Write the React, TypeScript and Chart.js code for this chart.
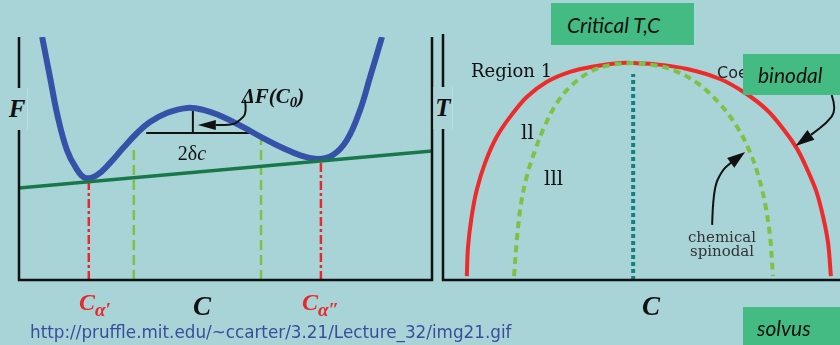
import React, { useEffect, useRef } from "react";
import { Chart, registerables } from "chart.js";
Chart.register(...registerables);

// ---------- Left panel: free energy F(C) ----------
const freeEnergyC = [5.6, 7.5, 9.4, 11.6, 13.8, 16.0, 18.9, 22.0, 25.2, 28.6, 31.7, 35.8, 40.7, 44.6, 49.4, 54.2, 59.1, 63.9, 68.0, 72.4, 76.0, 79.4, 82.6, 85.0, 87.9];
const freeEnergyF = [100, 83.5, 67.1, 53.5, 46.1, 42.0, 43.2, 48.1, 54.3, 60.5, 65.0, 68.7, 70.8, 70.0, 67.1, 63.0, 58.4, 54.3, 51.4, 49.8, 51.4, 57.6, 70.0, 83.5, 100];
const tangentC = [0, 100];
const tangentF = [37.9, 53.1];
const coexistC = [16.9, 73.1]; // C alpha', C alpha''
const coexistF = [40.5, 49.5];
const inflectionC = [27.8, 58.6];
const inflectionF = [55.6, 57.6];
const deltaSpanC = [30.8, 55.9];
const deltaSpanF = 60.5;
const peakC = 42.1;
const peakF = 70.0;
const leftArrowC = [54.7, 55.2, 53.5, 51.8, 43.3];
const leftArrowF = [74.1, 68.7, 65.8, 63.8, 63.8];

// ---------- Right panel: phase diagram T(C) ----------
const binodalC = [6.0, 6.3, 7.2, 8.5, 10.6, 13.5, 16.9, 21.1, 26.1, 32.0, 38.7, 44.6, 47.9, 52.9, 61.5, 69.8, 76.1, 81.6, 86.1, 89.2, 91.7, 94.0, 95.7, 97.0, 97.7];
const binodalT = [1.6, 13.4, 25.6, 36.6, 47.6, 58.1, 66.3, 74.4, 80.5, 84.6, 87.0, 88.2, 88.2, 87.8, 85.8, 81.7, 76.0, 69.1, 60.6, 53.3, 45.1, 36.2, 26.0, 15.0, 1.6];
const spinodalC = [17.9, 18.6, 19.6, 21.2, 23.2, 25.4, 28.5, 32.0, 37.0, 42.1, 47.9, 52.9, 57.9, 64.0, 69.8, 74.1, 77.1, 79.3, 81.1, 82.4, 83.1];
const spinodalT = [1.6, 16.3, 30.5, 42.7, 52.8, 61.8, 71.5, 78.5, 84.6, 87.4, 88.2, 87.4, 85.4, 80.1, 71.5, 62.2, 52.8, 43.1, 31.3, 17.5, 1.6];
const criticalC = 47.9;
const criticalTopT = 83.7;
const binodalArrowC = [97.9, 99.2, 96.6, 93.0, 88.8];
const binodalArrowT = [75.2, 69.1, 63.8, 59.4, 54.5];
const spinodalArrowC = [67.8, 68.0, 70.3, 72.8, 76.1];
const spinodalArrowT = [22.4, 36.6, 44.7, 48.0, 52.0];

const BG = "#a9d4d7";
const BOX = "#44bb82";
const RED = "#e8282a";
const GREEN = "#7cc243";

const pts = (xs: number[], ys: number[]) => xs.map((x, i) => ({ x, y: ys[i] }));
const vline = (x: number, top: number) => [{ x, y: 0 }, { x, y: top }];

function drawArrow(chart: any, xs: number[], ys: number[], headLen: number, headHalf: number) {
  const { ctx, scales } = chart;
  const p = xs.map((v, i) => [scales.x.getPixelForValue(v), scales.y.getPixelForValue(ys[i])]);
  const n = p.length;
  const [tx, ty] = p[n - 1];
  const [qx, qy] = p[n - 2];
  const ang = Math.atan2(ty - qy, tx - qx);
  const bx = tx - headLen * Math.cos(ang);
  const by = ty - headLen * Math.sin(ang);
  const path = p.slice(0, n - 1).concat([[bx, by]]);
  ctx.save();
  ctx.strokeStyle = "#111";
  ctx.fillStyle = "#111";
  ctx.lineWidth = 2;
  ctx.beginPath();
  ctx.moveTo(path[0][0], path[0][1]);
  for (let i = 1; i < path.length - 1; i++) {
    const mx = (path[i][0] + path[i + 1][0]) / 2;
    const my = (path[i][1] + path[i + 1][1]) / 2;
    ctx.quadraticCurveTo(path[i][0], path[i][1], mx, my);
  }
  ctx.lineTo(bx, by);
  ctx.stroke();
  const nx = -Math.sin(ang), ny = Math.cos(ang);
  ctx.beginPath();
  ctx.moveTo(tx, ty);
  ctx.lineTo(bx + nx * headHalf, by + ny * headHalf);
  ctx.lineTo(bx - nx * headHalf, by - ny * headHalf);
  ctx.closePath();
  ctx.fill();
  ctx.restore();
}

const baseScales = {
  x: { type: "linear" as const, min: 0, max: 100, display: false },
  y: { type: "linear" as const, min: 0, max: 100, display: false },
};

function LeftChart() {
  const ref = useRef<HTMLCanvasElement>(null);
  useEffect(() => {
    const axes = {
      id: "leftAxes",
      afterDatasetsDraw(chart: any) {
        const { ctx, chartArea: a } = chart;
        ctx.save();
        ctx.strokeStyle = "#111";
        ctx.lineWidth = 2.5;
        ctx.beginPath();
        ctx.moveTo(a.left, a.top);
        ctx.lineTo(a.left, a.bottom);
        ctx.lineTo(a.right, a.bottom);
        ctx.lineTo(a.right, a.top);
        ctx.stroke();
        ctx.restore();
        drawArrow(chart, leftArrowC, leftArrowF, 18, 5);
      },
    };
    const chart = new Chart(ref.current!, {
      type: "line",
      data: {
        datasets: [
          { data: pts(tangentC, tangentF), borderColor: "#18784a", borderWidth: 3.5, order: 0 },
          { data: pts(freeEnergyC, freeEnergyF), borderColor: "#3652a8", borderWidth: 6, tension: 0.4, clip: 0, order: 1 },
          { data: vline(coexistC[0], coexistF[0]), borderColor: RED, borderWidth: 2.5, borderDash: [9, 3, 3, 3], order: 2 },
          { data: vline(coexistC[1], coexistF[1]), borderColor: RED, borderWidth: 2.5, borderDash: [9, 3, 3, 3], order: 2 },
          { data: vline(inflectionC[0], inflectionF[0]), borderColor: GREEN, borderWidth: 2.5, borderDash: [10, 5], order: 2 },
          { data: vline(inflectionC[1], inflectionF[1]), borderColor: GREEN, borderWidth: 2.5, borderDash: [10, 5], order: 2 },
          { data: pts(deltaSpanC, [deltaSpanF, deltaSpanF]), borderColor: "#111", borderWidth: 2, order: 2 },
          { data: [{ x: peakC, y: deltaSpanF }, { x: peakC, y: peakF }], borderColor: "#111", borderWidth: 2, order: 2 },
        ] as any,
      },
      options: {
        responsive: false,
        animation: false,
        devicePixelRatio: 1,
        layout: { padding: { left: 19, top: 37, right: 8, bottom: 65 } },
        scales: baseScales,
        elements: { point: { radius: 0 } },
        plugins: { legend: { display: false }, tooltip: { enabled: false } },
      },
      plugins: [axes],
    });
    return () => chart.destroy();
  }, []);
  return <canvas ref={ref} width={440} height={345} style={{ position: "absolute", left: 0, top: 0 }} />;
}

function RightChart() {
  const ref = useRef<HTMLCanvasElement>(null);
  useEffect(() => {
    const axes = {
      id: "rightAxes",
      afterDatasetsDraw(chart: any) {
        const { ctx, chartArea: a } = chart;
        ctx.save();
        ctx.strokeStyle = "#111";
        ctx.lineWidth = 2.5;
        ctx.beginPath();
        ctx.moveTo(a.left, a.top);
        ctx.lineTo(a.left, a.bottom);
        ctx.lineTo(chart.width, a.bottom);
        ctx.stroke();
        ctx.restore();
        drawArrow(chart, binodalArrowC, binodalArrowT, 19, 6);
        drawArrow(chart, spinodalArrowC, spinodalArrowT, 18, 6);
      },
    };
    const chart = new Chart(ref.current!, {
      type: "line",
      data: {
        datasets: [
          { data: pts(spinodalC, spinodalT), borderColor: GREEN, borderWidth: 4, borderDash: [7, 5], tension: 0.35, order: 0 },
          { data: pts(binodalC, binodalT), borderColor: "#ee2a2a", borderWidth: 4, tension: 0.35, order: 1 },
          { data: vline(criticalC, criticalTopT), borderColor: "#15807f", borderWidth: 4, borderDash: [4, 3], order: 2 },
        ] as any,
      },
      options: {
        responsive: false,
        animation: false,
        devicePixelRatio: 1,
        layout: { padding: { left: 7, top: 34, right: 0, bottom: 65 } },
        scales: baseScales,
        elements: { point: { radius: 0 } },
        plugins: { legend: { display: false }, tooltip: { enabled: false } },
      },
      plugins: [axes],
    });
    return () => chart.destroy();
  }, []);
  return <canvas ref={ref} width={404} height={345} style={{ position: "absolute", left: 436, top: 0 }} />;
}

const serif = '"Liberation Serif", "Times New Roman", serif';
const serif2 = '"DejaVu Serif", serif';
const sansIt = 'Lato, "Open Sans", sans-serif';

const C = (x: number, y: number, style: React.CSSProperties, children: React.ReactNode, center = true) => (
  <div
    style={{
      position: "absolute",
      left: x,
      top: y,
      transform: center ? "translate(-50%, -50%)" : "translate(0, -50%)",
      whiteSpace: "nowrap",
      lineHeight: 1,
      ...style,
    }}
  >
    {children}
  </div>
);

export default function App() {
  useEffect(() => {
    document.body.style.margin = "0";
  }, []);
  const axisLabel: React.CSSProperties = { font: `bold italic 25px ${serif}`, color: "#111", background: BG, padding: "7px 2px" };
  const cLabel: React.CSSProperties = { font: `bold italic 27px ${serif}`, color: "#111" };
  const redLabel: React.CSSProperties = { font: `bold italic 24px ${serif}`, color: RED };
  const box: React.CSSProperties = { position: "absolute", background: BOX, boxSizing: "border-box" };
  const boxText: React.CSSProperties = { font: `italic 21px ${sansIt}`, color: "#111" };
  return (
    <div style={{ position: "relative", width: 840, height: 345, background: BG, overflow: "hidden" }}>
      <LeftChart />
      <RightChart />
      {C(17, 109, axisLabel, "F")}
      {C(443, 108, axisLabel, "T")}
      {C(273, 97, { font: `bold italic 21px ${serif}`, color: "#111" }, <>ΔF(C<sub style={{ fontSize: 15, verticalAlign: -4 }}>0</sub>)</>)}
      {C(192, 153, { font: `20px ${serif}`, color: "#111" }, <>2δ<i>c</i></>)}
      {C(79, 305, redLabel, <>C<span style={{ fontSize: 19, verticalAlign: -6 }}>α′</span></>, false)}
      {C(202, 306, cLabel, "C")}
      {C(302, 305, redLabel, <>C<span style={{ fontSize: 19, verticalAlign: -6 }}>α″</span></>, false)}
      {C(651, 306, cLabel, "C")}
      {C(30, 332, { font: `16.8px "DejaVu Sans", sans-serif`, color: "#3a4d9c" }, "http://pruffle.mit.edu/~ccarter/3.21/Lecture_32/img21.gif", false)}
      {C(471, 70, { font: `18px ${serif2}`, color: "#111" }, "Region 1", false)}
      {C(717, 72, { font: `16px "DejaVu Sans", sans-serif`, color: "#222" }, "Coexistence", false)}
      {C(521, 132, { font: `20px ${serif2}`, color: "#111" }, "ll", false)}
      {C(544, 178, { font: `20px ${serif2}`, color: "#111" }, "lll", false)}
      <div style={{ position: "absolute", left: 722, top: 244, transform: "translate(-50%, -50%)", font: `15px ${serif2}`, color: "#333", lineHeight: "14px", textAlign: "center" }}>
        chemical
        <br />
        spinodal
      </div>
      <div style={{ ...box, left: 551, top: 3, width: 143, height: 42 }}>
        {C(16, 21, boxText, "Critical T,C", false)}
      </div>
      <div style={{ ...box, left: 743, top: 54, width: 97, height: 41 }}>
        {C(15, 20, boxText, "binodal", false)}
      </div>
      <div style={{ ...box, left: 743, top: 307, width: 97, height: 38 }}>
        {C(14, 20, boxText, "solvus", false)}
      </div>
    </div>
  );
}
